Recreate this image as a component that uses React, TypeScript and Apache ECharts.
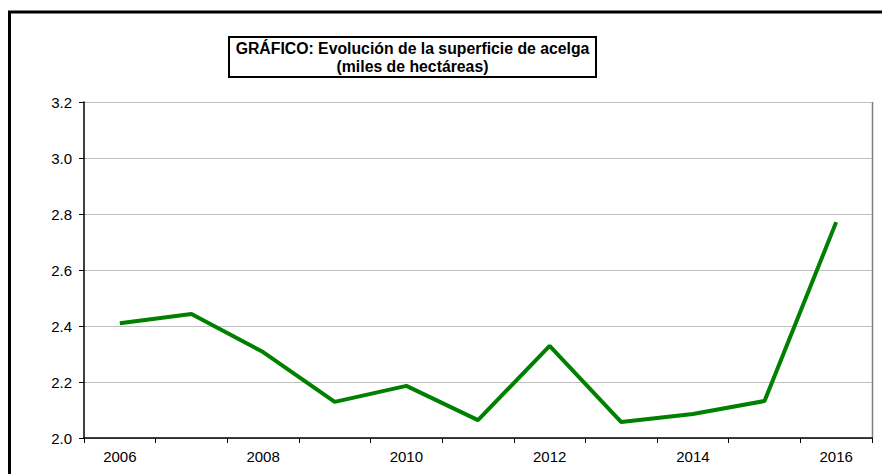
import React, { useEffect, useRef } from "react";
import * as echarts from "echarts";

const years = ["2006", "2007", "2008", "2009", "2010", "2011", "2012", "2013", "2014", "2015", "2016"];
const superficie = [2.41, 2.443, 2.307, 2.129, 2.186, 2.064, 2.329, 2.057, 2.086, 2.132, 2.771];
const titleLines = ["GRÁFICO: Evolución de la superficie de acelga", "(miles de hectáreas)"];

export default function App() {
  const ref = useRef<HTMLDivElement>(null);
  useEffect(() => {
    if (!ref.current) return;
    const chart = echarts.init(ref.current, null, { renderer: "svg" });
    const font = "'Liberation Sans', Arial, sans-serif";
    chart.setOption({
      animation: false,
      backgroundColor: "#ffffff",
      textStyle: { fontFamily: font },
      grid: { left: 84, right: 10, top: 102, bottom: 36, containLabel: false },
      xAxis: {
        type: "category",
        data: years,
        boundaryGap: true,
        axisLine: { lineStyle: { color: "#000", width: 1.5 } },
        axisTick: { show: true, interval: 0, length: 5, lineStyle: { color: "#000" } },
        axisLabel: {
          interval: 1,
          color: "#000",
          fontSize: 15,
          fontFamily: font,
          margin: 11,
        },
        splitLine: { show: false },
      },
      yAxis: {
        type: "value",
        min: 2.0,
        max: 3.2,
        interval: 0.2,
        axisLine: { show: true, lineStyle: { color: "#000", width: 1.5 } },
        axisTick: { show: true, length: 5, lineStyle: { color: "#000" } },
        axisLabel: {
          color: "#000",
          fontSize: 15,
          fontFamily: font,
          margin: 12,
          formatter: (v: number) => v.toFixed(1),
        },
        splitLine: { show: true, lineStyle: { color: "#c0c0c0", width: 1 } },
      },
      series: [
        {
          type: "line",
          data: superficie,
          symbol: "none",
          lineStyle: { color: "#008000", width: 4 },
          itemStyle: { color: "#008000" },
        },
      ],
      graphic: [
        {
          type: "rect",
          shape: { x: 9.5, y: 12, width: 900, height: 500 },
          style: { fill: "none", stroke: "#000", lineWidth: 3 },
          silent: true,
        },
        {
          type: "line",
          shape: { x1: 872.5, y1: 102, x2: 872.5, y2: 438 },
          style: { stroke: "#808080", lineWidth: 1.5 },
          silent: true,
        },
        {
          type: "rect",
          shape: { x: 229, y: 37, width: 367, height: 40 },
          style: { fill: "#fff", stroke: "#000", lineWidth: 2 },
          silent: true,
        },
        {
          type: "text",
          x: 412.5,
          y: 48,
          style: {
            text: titleLines[0],
            fill: "#000",
            font: `bold 15.8px ${font}`,
            textAlign: "center",
            textVerticalAlign: "middle",
          },
          silent: true,
        },
        {
          type: "text",
          x: 412.5,
          y: 66,
          style: {
            text: titleLines[1],
            fill: "#000",
            font: `bold 15.8px ${font}`,
            textAlign: "center",
            textVerticalAlign: "middle",
          },
          silent: true,
        },
      ],
    });
    return () => chart.dispose();
  }, []);
  return (
    <div
      ref={ref}
      style={{ position: "fixed", left: 0, top: 0, width: 882, height: 474, background: "#fff" }}
    />
  );
}
